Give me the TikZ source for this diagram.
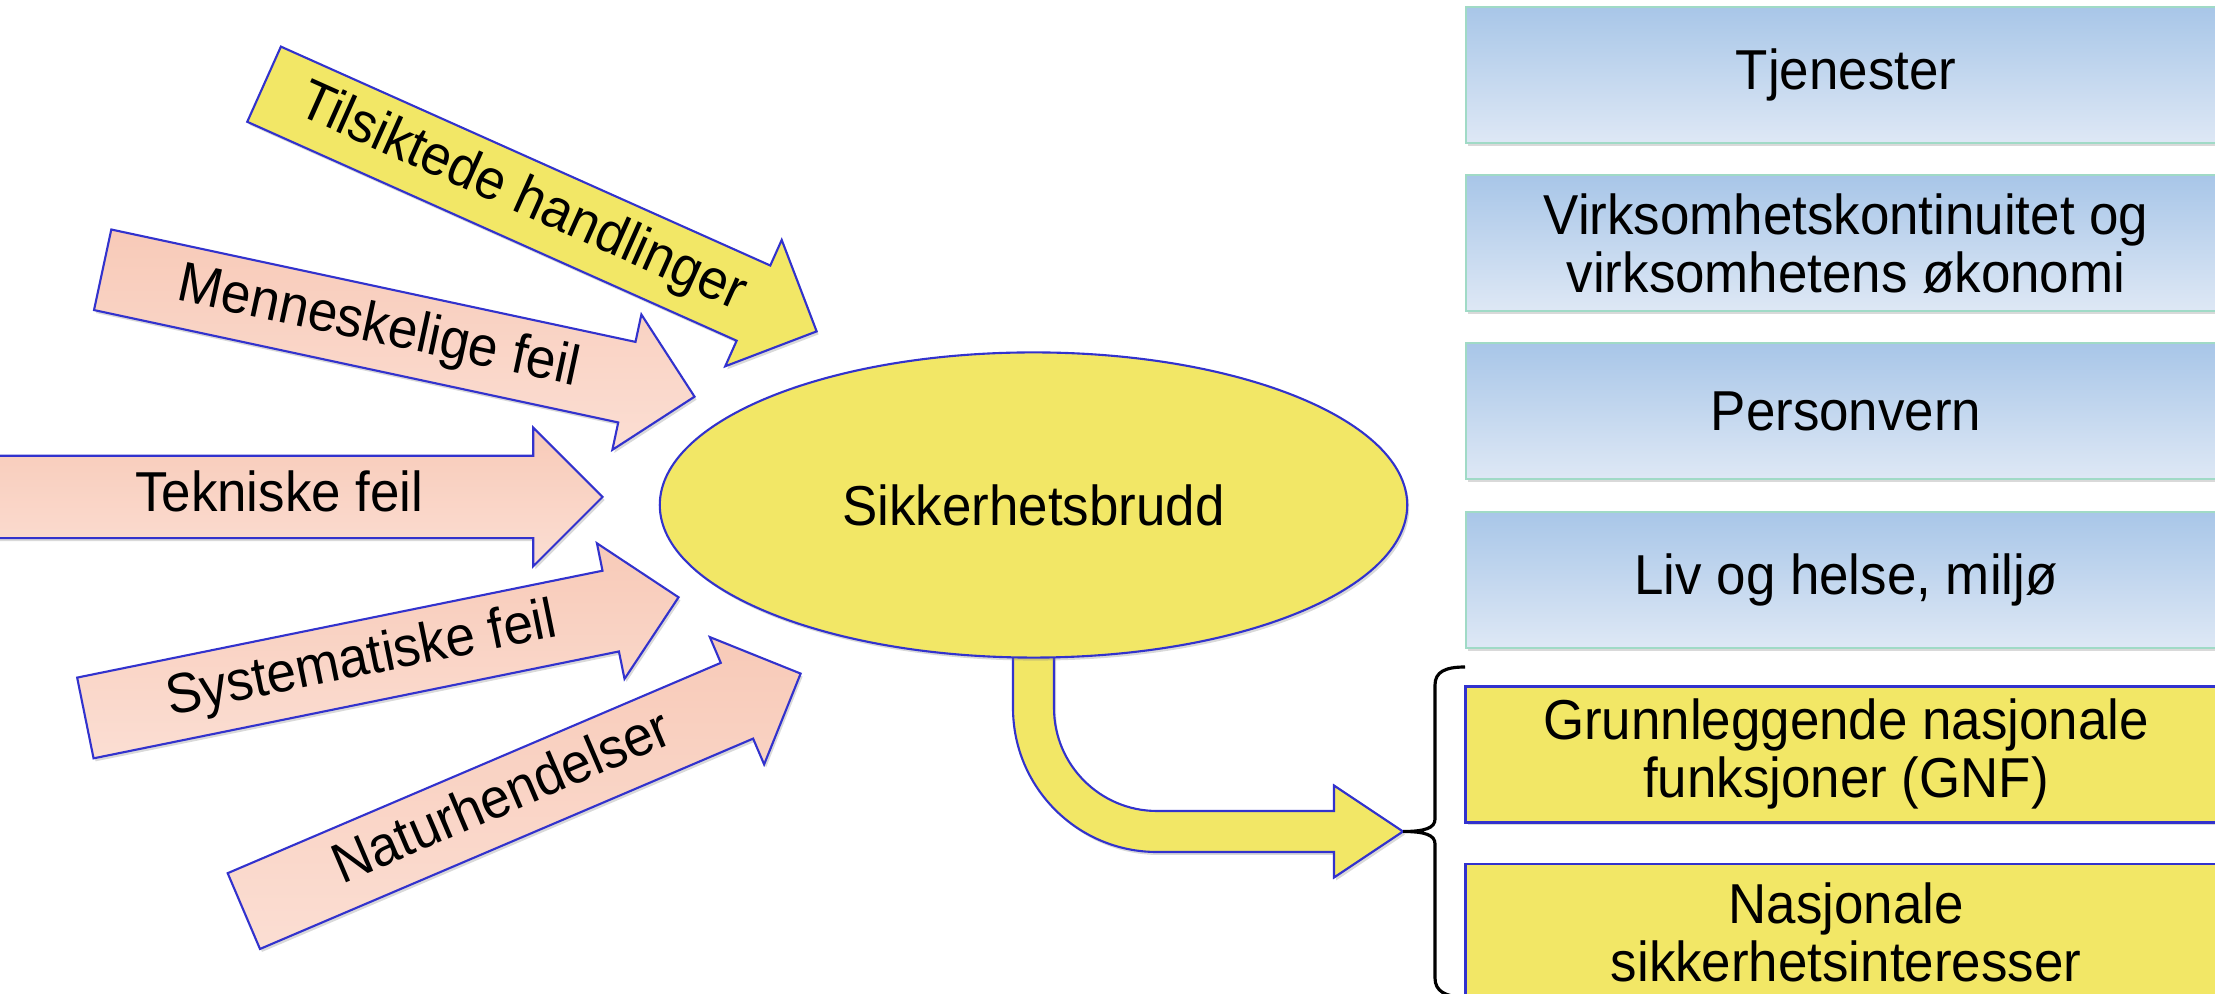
\documentclass[tikz,border=0pt]{standalone}
\usepackage{fontspec}
\setmainfont[FakeStretch=0.94]{Liberation Sans}
\usepackage{tikz}
\usetikzlibrary{shapes.geometric,shapes.arrows,positioning,calc,backgrounds,shadows}
\definecolor{sunyellow}{RGB}{242,231,102}
\definecolor{edgeblue}{RGB}{50,50,205}
\definecolor{salmontop}{RGB}{248,202,184}
\definecolor{salmonbot}{RGB}{251,222,211}
\definecolor{skytop}{RGB}{168,198,232}
\definecolor{skybot}{RGB}{222,232,245}
\definecolor{mintedge}{RGB}{160,218,198}
\newcommand{\boxfont}{\fontsize{16}{16.5}\selectfont}

\begin{document}
\begin{tikzpicture}[
  x=0.01cm, y=0.01cm,
  font=\boxfont,
  softshadow/.style={drop shadow={shadow xshift=0.02cm, shadow yshift=-0.03cm, opacity=0.3}},
  cause/.style={single arrow, draw=edgeblue, line width=0.6pt, minimum height=6.05cm, minimum width=1.36cm, single arrow head extend=0.28cm, inner xsep=0pt, inner ysep=0.12cm, text height=12pt, text depth=4pt, anchor=tip, softshadow},
  redcause/.style={cause, top color=salmontop, bottom color=salmonbot},
  yelcause/.style={cause, fill=sunyellow},
  conseq/.style={rectangle, draw=mintedge, line width=0.6pt, top color=skytop, bottom color=skybot, minimum width=7.6cm, minimum height=1.36cm, align=center, softshadow},
  national/.style={rectangle, draw=edgeblue, line width=0.8pt, fill=sunyellow, minimum width=7.6cm, minimum height=1.36cm, align=center, softshadow},
  fatbend/.style={draw=edgeblue, line width=0.6pt, fill=sunyellow, softshadow},
]

\clip (0,0) rectangle (2215,994);

\node[yelcause, rotate=-24.1] (c-tils) at (818,662) {Tilsiktede handlinger};
\node[redcause, rotate=-12.1] (c-menn) at (696,597) {Menneskelige feil};
\node[redcause] (c-tekn) at (604,497) {Tekniske feil};
\node[redcause, rotate=11.5] (c-syst) at (680,397) {Systematiske feil};
\node[redcause, rotate=23.1] (c-natu) at (802,321) {Naturhendelser};

\node[ellipse, draw=edgeblue, line width=0.6pt, fill=sunyellow, minimum width=7.47cm, minimum height=3.05cm, inner sep=0pt, softshadow] (brudd) at (1033.5,489) {Sikkerhetsbrudd};

\node[conseq] (k-tjen) at (1846,919) {Tjenester};
\node[conseq, below=0.3cm of k-tjen] (k-virk) {Virksomhetskontinuitet og\\virksomhetens økonomi};
\node[conseq, below=0.3cm of k-virk] (k-pers) {Personvern};
\node[conseq, below=0.3cm of k-pers] (k-liv) {Liv og helse, miljø};
\node[national, below=0.36cm of k-liv] (k-gnf) {Grunnleggende nasjonale\\funksjoner (GNF)};
\node[national, below=0.39cm of k-gnf] (k-nsi) {Nasjonale\\sikkerhetsinteresser};

\coordinate (brace-tip) at (1403,162.5);
\draw[line width=0.9pt] (1465,327) .. controls (1445,327) and (1435,322) .. (1435,309) -- (1435,175) .. controls (1435,166) and (1425,162.5) .. (brace-tip) .. controls (1425,162.5) and (1435,159) .. (1435,150) -- (1435,16) .. controls (1435,3) and (1445,-3) .. (1465,-3);

\begin{scope}[on background layer]
\draw[fatbend] (1013,370) -- (1013,286) arc[start angle=180, end angle=270, radius=144] -- (1334,142) -- (1334,116.5) -- (brace-tip) -- (1334,208.5) -- (1334,183) -- (1157,183) arc[start angle=270, end angle=180, radius=103] -- (1054,370) -- cycle;
\end{scope}

\end{tikzpicture}
\end{document}
